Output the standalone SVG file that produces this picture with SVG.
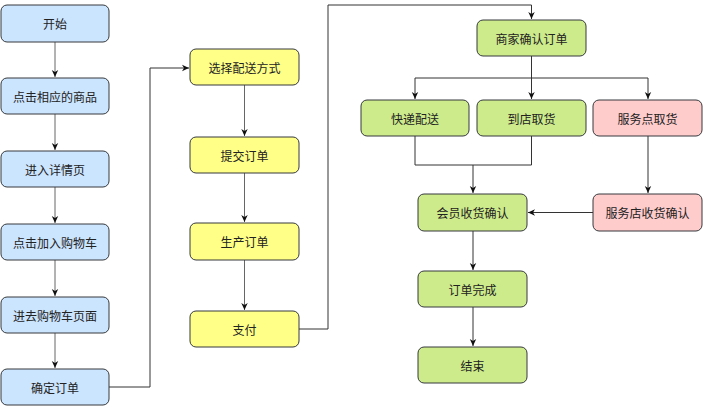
<svg xmlns="http://www.w3.org/2000/svg" width="703" height="406" viewBox="0 0 703 406">
<style>
.n rect{stroke:#36393d;stroke-width:1}
.b rect{fill:#cce5ff}
.y rect{fill:#ffff88}
.g rect{fill:#cdeb8b}
.r rect{fill:#ffcccc}
text{font-family:"Noto Sans CJK SC","Noto Sans",sans-serif;font-size:12px;fill:#222;text-anchor:middle;dominant-baseline:central}
#edges path{fill:none;stroke:#333;stroke-width:1;marker-end:url(#ah)}
#edges path.l{stroke:#666}
</style>
<defs>
<marker id="ah" viewBox="0 0 8 8" refX="7" refY="4" markerWidth="8" markerHeight="8" markerUnits="userSpaceOnUse" orient="auto">
<path d="M0,0.8 L7,4 L0,7.2 L2,4 Z" fill="#111"/>
</marker>
</defs>
<rect width="703" height="406" fill="#fff"/>
<g id="edges">
<path class="l" d="M55,42 V77"/>
<path class="l" d="M55,114 V150"/>
<path class="l" d="M55,187 V223"/>
<path class="l" d="M55,260 V296"/>
<path class="l" d="M55,333 V368"/>
<path d="M109,387 H150 V68 H189"/>
<path class="l" d="M244.5,85 V136"/>
<path class="l" d="M244.5,173 V222"/>
<path class="l" d="M244.5,260 V310"/>
<path d="M299,329 H328 V5 H531.5 V19"/>
<path d="M531.5,56 V99"/>
<path d="M531.5,78 H415 V99"/>
<path d="M531.5,78 H648 V99"/>
<path d="M415,136 V165 H531.5 V136" style="marker-end:none"/>
<path d="M473,165 V193"/>
<path d="M648,136 V193"/>
<path d="M593,212.5 H528"/>
<path d="M473,231 V270"/>
<path d="M473,307 V346"/>
</g>
<g id="n1" class="n b"><rect x="1" y="5" width="108" height="37" rx="6"/><text x="55" y="23.5">开始</text></g>
<g id="n2" class="n b"><rect x="1" y="78" width="108" height="36" rx="6"/><text x="55" y="96">点击相应的商品</text></g>
<g id="n3" class="n b"><rect x="1" y="151" width="108" height="36" rx="6"/><text x="55" y="169">进入详情页</text></g>
<g id="n4" class="n b"><rect x="1" y="224" width="108" height="36" rx="6"/><text x="55" y="242">点击加入购物车</text></g>
<g id="n5" class="n b"><rect x="1" y="297" width="108" height="36" rx="6"/><text x="55" y="315">进去购物车页面</text></g>
<g id="n6" class="n b"><rect x="1" y="369" width="108" height="36" rx="6"/><text x="55" y="387">确定订单</text></g>
<g id="n7" class="n y"><rect x="190" y="49" width="109" height="36" rx="6"/><text x="244.5" y="67">选择配送方式</text></g>
<g id="n8" class="n y"><rect x="190" y="137" width="109" height="36" rx="6"/><text x="244.5" y="155">提交订单</text></g>
<g id="n9" class="n y"><rect x="190" y="223" width="109" height="37" rx="6"/><text x="244.5" y="241.5">生产订单</text></g>
<g id="n10" class="n y"><rect x="190" y="311" width="109" height="36" rx="6"/><text x="244.5" y="329">支付</text></g>
<g id="n11" class="n g"><rect x="477" y="20" width="109" height="36" rx="6"/><text x="531.5" y="38">商家确认订单</text></g>
<g id="n12" class="n g"><rect x="361" y="100" width="108" height="36" rx="6"/><text x="415" y="118">快递配送</text></g>
<g id="n13" class="n g"><rect x="477" y="100" width="109" height="36" rx="6"/><text x="531.5" y="118">到店取货</text></g>
<g id="n14" class="n r"><rect x="593" y="100" width="109" height="36" rx="6"/><text x="647.5" y="118">服务点取货</text></g>
<g id="n15" class="n g"><rect x="418" y="194" width="109" height="37" rx="6"/><text x="472.5" y="212.5">会员收货确认</text></g>
<g id="n16" class="n r"><rect x="593" y="194" width="109" height="37" rx="6"/><text x="647.5" y="212.5">服务店收货确认</text></g>
<g id="n17" class="n g"><rect x="418" y="271" width="109" height="36" rx="6"/><text x="472.5" y="289">订单完成</text></g>
<g id="n18" class="n g"><rect x="418" y="347" width="109" height="36" rx="6"/><text x="472.5" y="365">结束</text></g>
</svg>
